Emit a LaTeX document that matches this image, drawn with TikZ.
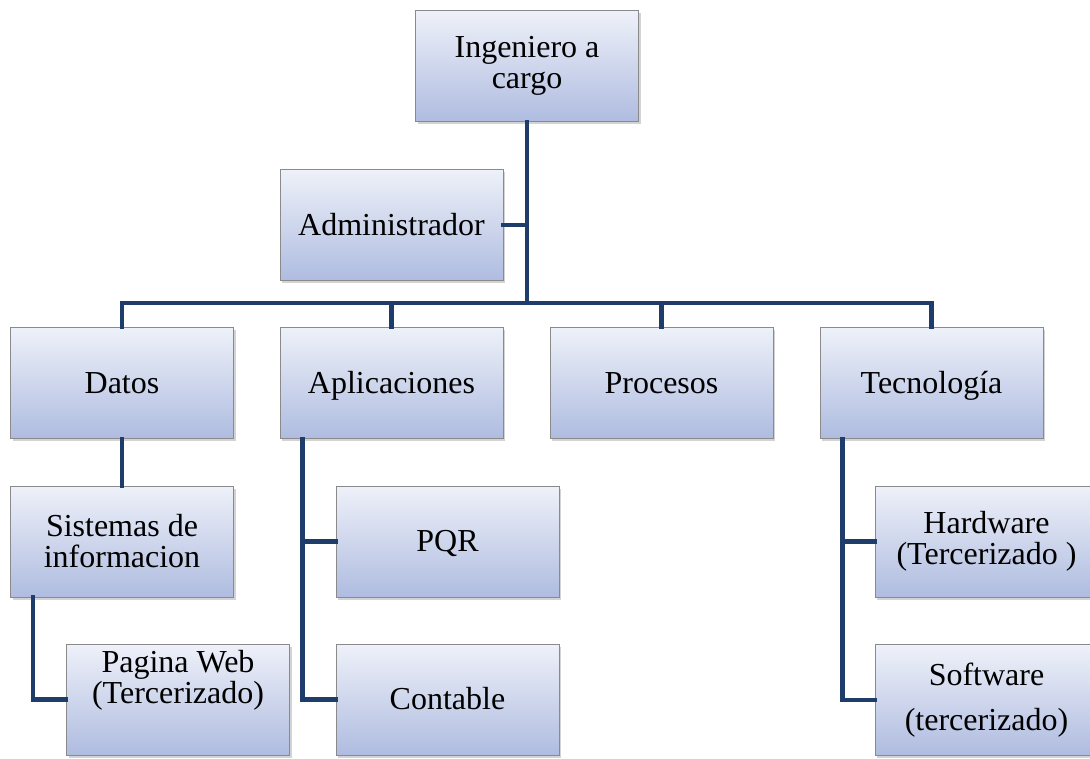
\documentclass[tikz,border=0pt]{standalone}
\usepackage{fontspec}
\setmainfont{Liberation Serif}
\usetikzlibrary{positioning, shadows}

\definecolor{boxtop}{HTML}{EEF1F9}
\definecolor{boxbot}{HTML}{AFBCE0}
\definecolor{boxline}{HTML}{8A8A8A}
\definecolor{linkcol}{HTML}{1F3D6B}

\begin{document}
\begin{tikzpicture}[x=1pt, y=-1pt,
			every node/.style={
				draw=boxline,
				line width=1pt,
				top color=boxtop,
				bottom color=boxbot,
				align=center,
				minimum width=223pt,
				minimum height=111pt,
				font=\fontsize{32}{31}\selectfont,
				inner sep=2pt,
				drop shadow={shadow xshift=2pt, shadow yshift=-2.5pt, opacity=0.35}
			},
			oneline/.style={text height=24pt, text depth=4pt},
			link/.style={linkcol, line width=4.5pt, line cap=rect, line join=miter}
			]
			\useasboundingbox (0,0) rectangle (1090,758);
			
			% Level 1
			\node (ing) at (527,66) {Ingeniero a\\cargo};
			\node[oneline] (admin) at (391.5,225) {Administrador};
			\coordinate (bus) at (527,303);
			
			% Level 2
			\node[oneline] (datos) at (122,383) {Datos};
			\node[oneline] (aplic) at (391.5,383) {Aplicaciones};
			\node[oneline] (proc) at (661.5,383) {Procesos};
			\node[oneline] (tecno) at (931.5,383) {Tecnolog\'ia};
			
			% Level 3
			\node (sis) at (122,541.5) {Sistemas de\\informacion};
			\node[oneline] (pqr) at (447.5,541.5) {PQR};
			\node (hard) at (986.5,541.5) {Hardware\\(Tercerizado )};
			
			% Level 4
			\node[text height=55pt, text depth=48pt] (web) at (178,699.5) {Pagina Web\\(Tercerizado)};
			\node[oneline] (cont) at (447.5,699.5) {Contable};
			\node (soft) at (986.5,700) {Software\\[14pt](tercerizado)};
			
			% Links
			\draw[link] (ing.south) -- (bus);
			\draw[link] (admin.east) -- (admin.east -| bus);
			\draw[link] (datos.north) |- (bus) -| (tecno.north);
			\draw[link] (aplic.north) -- (aplic.north |- bus);
			\draw[link] (proc.north) -- (proc.north |- bus);
			
			\draw[link] (datos.south) -- (sis.north);
			\draw[link] ([xshift=23pt]sis.south west) |- (web.west);
			
			\draw[link] ([xshift=23pt]aplic.south west) |- (cont.west);
			\draw[link] ([xshift=23pt]aplic.south west) |- (pqr.west);
			
			\draw[link] ([xshift=23pt]tecno.south west) |- (soft.west);
			\draw[link] ([xshift=23pt]tecno.south west) |- (hard.west);
			
		\end{tikzpicture}
\end{document}
